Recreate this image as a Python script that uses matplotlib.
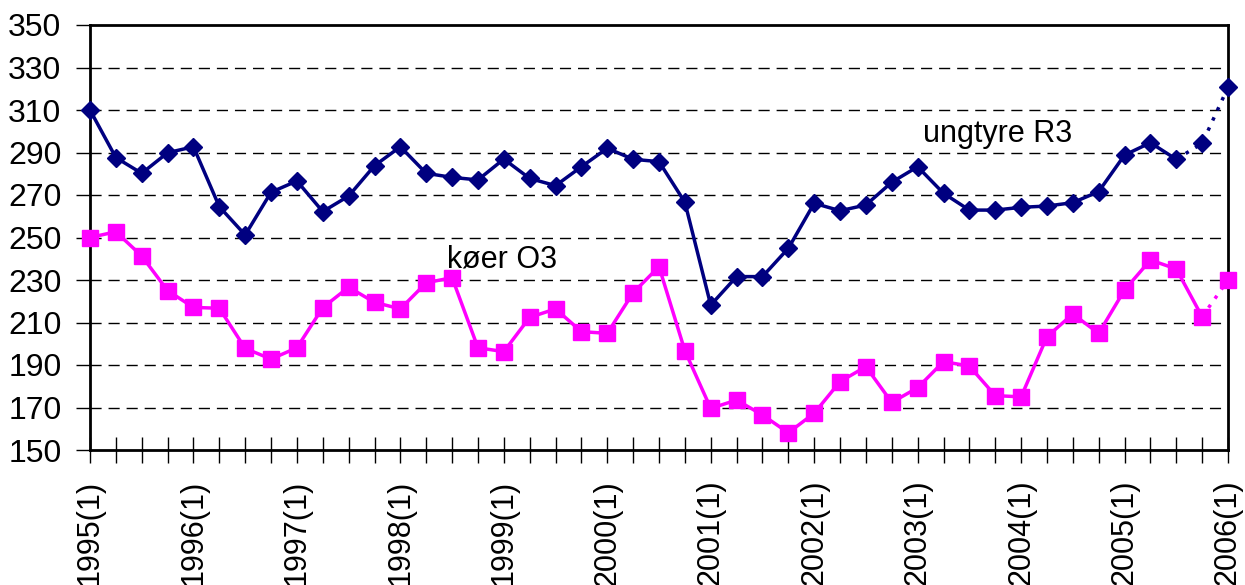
import numpy as np
import matplotlib
matplotlib.use("Agg")
import matplotlib.pyplot as plt

plt.rcParams['font.family'] = ['Liberation Sans', 'DejaVu Sans']

# quarterly data 1995(1) .. 2006(1)
years = list(range(1995, 2007))
quarters = [f"{y}({q})" for y in years for q in range(1, 5)][:45]

ungtyre_r3 = [310.0, 287.6, 280.2, 289.9, 292.7, 264.5, 251.2, 271.3, 276.6, 262.2,
              269.5, 283.8, 292.7, 280.2, 278.3, 277.1, 286.9, 277.8, 274.4, 283.3,
              292.0, 286.8, 285.7, 266.6, 218.2, 231.6, 231.6, 244.9, 266.1, 262.6,
              265.3, 276.0, 283.3, 270.8, 262.9, 262.9, 264.2, 264.8, 266.4, 271.6,
              288.8, 294.6, 286.8, 294.3, 320.7]
koer_o3 = [250.0, 252.7, 241.3, 225.0, 217.1, 216.7, 197.8, 192.8, 198.1, 217.0,
           226.6, 219.5, 216.4, 228.7, 231.1, 198.1, 196.3, 212.4, 216.4, 205.7,
           204.9, 224.0, 236.3, 196.7, 169.6, 173.5, 166.5, 158.1, 167.3, 182.2,
           189.2, 172.4, 179.3, 191.6, 189.5, 175.6, 175.0, 203.3, 214.0, 204.9,
           225.3, 239.4, 235.2, 212.7, 230.0]

# last points are drawn with dotted connecting lines
r3_solid_end = 42
o3_solid_end = 43

x = np.arange(len(quarters))

fig = plt.figure(figsize=(12.45, 5.85), dpi=100)
ax = fig.add_axes([90 / 1245, 1 - 450 / 585, (1228 - 90) / 1245, (450 - 25) / 585])

navy = '#000080'
mag = '#FF00FF'

# dotted tails (lines only)
ax.plot(x[r3_solid_end:], ungtyre_r3[r3_solid_end:], color=navy, lw=2.5, ls=(0, (1, 2.2)), zorder=3)
ax.plot(x[o3_solid_end:], koer_o3[o3_solid_end:], color=mag, lw=2.5, ls=(0, (1, 2.2)), zorder=3)
# solid lines
ax.plot(x[:r3_solid_end + 1], ungtyre_r3[:r3_solid_end + 1], color=navy, lw=2.5, zorder=4)
ax.plot(x[:o3_solid_end + 1], koer_o3[:o3_solid_end + 1], color=mag, lw=2.5, zorder=4)
# markers
ax.plot(x, ungtyre_r3, ls='none', marker='D', ms=9.5, color=navy, zorder=5, clip_on=False)
ax.plot(x, koer_o3, ls='none', marker='s', ms=12, color=mag, zorder=5, clip_on=False)

ax.set_xlim(0, len(quarters) - 1)
ax.set_ylim(150, 350)
ax.set_yticks(np.arange(150, 351, 20))
ax.set_xticks(x)
ax.set_xticklabels([q if q.endswith('(1)') else '' for q in quarters], rotation=90)

for v in range(170, 331, 20):
    ax.axhline(v, color='black', lw=1, ls=(0, (8, 5)), zorder=1)

for s in ax.spines.values():
    s.set_linewidth(2)
    s.set_color('black')

ax.tick_params(axis='y', direction='out', length=10, width=1, labelsize=23, pad=10.5)
ax.tick_params(axis='x', direction='inout', length=19, width=1, labelsize=22, pad=12)

ax.text(32.2, 295, 'ungtyre R3', fontsize=22, color='black')
ax.text(13.8, 236, 'køer O3', fontsize=22, color='black')

fig.savefig('out.png', dpi=100)
